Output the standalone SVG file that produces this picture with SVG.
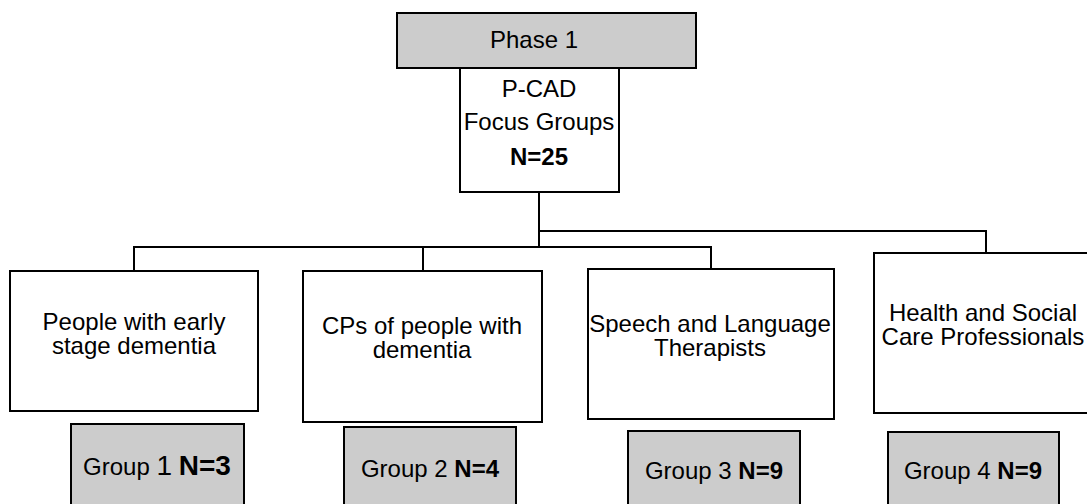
<svg xmlns="http://www.w3.org/2000/svg" width="1087" height="504" viewBox="0 0 1087 504">
<style>
.box{fill:#ffffff;stroke:#000000;stroke-width:2}
.grey{fill:#cccccc;stroke:#000000;stroke-width:2}
.t{font-family:"Liberation Sans",Arial,sans-serif;font-size:24px;fill:#000000;text-anchor:middle}
.b{font-weight:bold}
.conn{fill:none;stroke:#000000;stroke-width:2}
</style>
<rect width="1087" height="504" fill="#ffffff"/>
<g id="connectors">
<path class="conn" d="M539,192 V247 M134,271 V247 H711 V269 M423,247 V271 M539,231 H986 V253"/>
</g>
<g id="phase1">
<rect class="grey" x="397" y="13" width="299" height="55"/>
<text class="t" x="534" y="48" font-size="23">Phase 1</text>
</g>
<g id="pcad">
<rect class="box" x="460" y="68" width="159" height="124"/>
<text class="t" x="539" y="97">P-CAD</text>
<text class="t" x="539" y="130">Focus Groups</text>
<text class="t b" x="539" y="165">N=25</text>
</g>
<g id="node1">
<rect class="box" x="10" y="271" width="248" height="140"/>
<text class="t" x="134" y="330">People with early</text>
<text class="t" x="134" y="354">stage dementia</text>
</g>
<g id="node2">
<rect class="box" x="303" y="271" width="239" height="151"/>
<text class="t" x="422" y="334">CPs of people with</text>
<text class="t" x="422" y="358">dementia</text>
</g>
<g id="node3">
<rect class="box" x="588" y="269" width="246" height="150"/>
<text class="t" x="710" y="332">Speech and Language</text>
<text class="t" x="710" y="356">Therapists</text>
</g>
<g id="node4">
<rect class="box" x="874" y="253" width="220" height="160"/>
<text class="t" x="983" y="321">Health and Social</text>
<text class="t" x="983" y="345">Care Professionals</text>
</g>
<g id="group1">
<rect class="grey" x="71" y="424" width="173" height="90"/>
<text class="t" x="157" y="475">Group <tspan font-size="28">1</tspan> <tspan class="b" font-size="28">N=3</tspan></text>
</g>
<g id="group2">
<rect class="grey" x="344" y="427" width="172" height="90"/>
<text class="t" x="430" y="477">Group 2 <tspan class="b">N=4</tspan></text>
</g>
<g id="group3">
<rect class="grey" x="628" y="431" width="172" height="90"/>
<text class="t" x="714" y="479">Group 3 <tspan class="b">N=9</tspan></text>
</g>
<g id="group4">
<rect class="grey" x="888" y="432" width="171" height="90"/>
<text class="t" x="973" y="479">Group 4 <tspan class="b">N=9</tspan></text>
</g>
</svg>
